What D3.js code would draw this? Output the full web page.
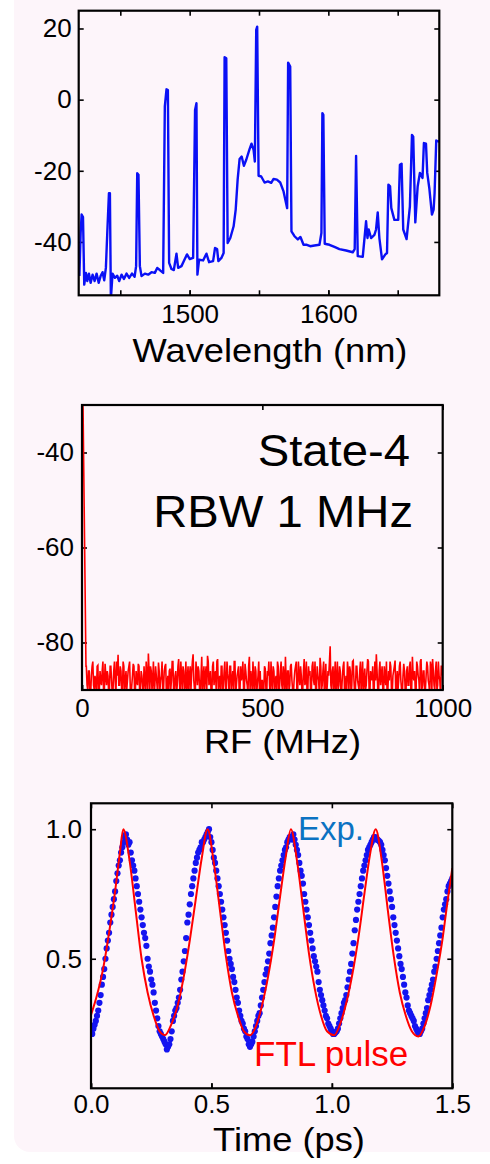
<!DOCTYPE html>
<html>
<head>
<meta charset="utf-8">
<script src="https://cdn.jsdelivr.net/npm/d3@7"></script>
<style>
  body { margin: 0; background: #ffffff; }
  svg text { font-family: "Liberation Sans", Arial, sans-serif; fill: #000; }
</style>
</head>
<body>
<svg id="canvas"></svg>
<script>
var width = 490;
var height = 1164;

// optical spectrum: wavelength (nm) / power (dB)
let specWl = [1420.5,1421.4,1422.1,1423.1,1424.0,1425.2,1426.2,1427.4,1428.6,1430.0,1431.5,1432.9,1434.4,1435.8,1437.2,1438.4,1439.6,1440.6,1441.8,1442.5,1443.2,1444.4,1446.1,1447.8,1449.2,1450.9,1452.6,1454.5,1456.4,1458.4,1460.3,1461.4,1462.2,1463.1,1464.1,1465.3,1467.7,1470.1,1472.5,1474.9,1476.6,1478.5,1480.9,1482.1,1483.3,1484.3,1485.2,1486.9,1488.6,1490.5,1491.7,1494.1,1496.5,1498.1,1500.1,1502.5,1503.9,1504.9,1505.6,1506.8,1509.7,1512.1,1514.0,1516.9,1518.3,1519.8,1520.7,1522.9,1524.5,1525.2,1526.4,1527.4,1529.3,1531.7,1533.2,1534.6,1536.0,1537.5,1539.1,1540.8,1543.2,1544.6,1546.1,1547.0,1548.0,1548.7,1549.7,1551.6,1554.0,1556.4,1558.8,1560.5,1562.9,1565.3,1567.7,1569.6,1570.3,1571.0,1572.5,1573.4,1575.6,1578.0,1579.9,1582.1,1584.5,1586.9,1590.0,1593.6,1595.0,1595.7,1596.4,1597.4,1600.8,1604.4,1608.0,1612.8,1617.6,1619.0,1620.0,1621.2,1624.8,1627.2,1628.2,1629.1,1630.8,1633.2,1634.4,1635.6,1636.8,1638.7,1641.1,1642.3,1643.3,1644.5,1645.4,1647.6,1650.4,1651.6,1652.8,1654.0,1656.4,1658.8,1660.3,1661.2,1662.7,1664.4,1666.0,1667.9,1668.9,1670.4,1671.3,1672.8,1674.7,1675.9,1676.6,1677.8,1679.0,1680.0]
let specDb = [-49.6,-37.5,-32.3,-33.0,-52.0,-48.7,-51.0,-48.9,-51.5,-49.2,-51.0,-48.9,-51.5,-49.6,-48.5,-50.8,-47.3,-37.5,-26.3,-26.3,-56.0,-48.9,-50.1,-49.5,-51.0,-49.2,-50.4,-48.9,-50.1,-48.9,-49.8,-46.8,-20.7,-21.1,-46.8,-49.6,-48.9,-49.2,-48.5,-48.7,-47.3,-47.9,-48.7,-1.9,2.9,2.7,-45.9,-47.6,-47.9,-43.3,-47.3,-46.8,-44.8,-43.5,-44.8,-44.5,-2.9,-1.0,-49.2,-45.0,-45.2,-43.3,-45.7,-45.4,-41.7,-42.0,-45.4,-44.5,-43.1,11.9,11.6,-40.3,-38.9,-35.6,-30.9,-22.5,-16.7,-16.0,-18.6,-16.9,-13.9,-12.4,-14.1,-17.4,19.6,20.5,-21.4,-21.6,-23.3,-23.0,-23.4,-22.3,-22.5,-23.3,-25.8,-29.3,-30.5,10.4,9.3,-37.0,-38.4,-39.3,-38.6,-40.8,-40.8,-41.2,-41.0,-40.8,-37.5,-3.8,-4.3,-40.5,-40.8,-41.4,-42.0,-42.4,-42.9,-42.0,-15.8,-44.0,-44.2,-34.2,-38.9,-36.5,-38.9,-38.0,-36.5,-31.7,-38.9,-44.9,-43.5,-43.1,-23.9,-24.4,-30.5,-33.8,-33.8,-18.3,-18.0,-36.5,-39.2,-30.0,-9.9,-10.4,-34.5,-24.4,-20.6,-22.0,-12.2,-12.4,-20.6,-24.9,-32.3,-30.9,-26.3,-11.5,-11.7,-11.8]
let specTicks = [1500, 1600]
let specMinor = [1450, 1500, 1550, 1600, 1650]
let specYTicks = [-40, -20, 0, 20]

// RF spectrum: peak at DC, then noise floor bins
let rfStartF = [0, 3, 7, 11]
let rfStartDb = [-28, -31, -58, -85]
// bins at 12, 16, ... 1000 MHz
let rfNoiseDb = [
  -85,-90,-86,-91,-85,-89,-87,-91,-84.8,-90,-88,-86,-91,-84.5,-89,-87,-90,-85,-91,-86,
  -88,-84,-82.6,-89,-86,-91,-85,-88,-90,-86,-84,-91,-87,-85,-90,-88,-84.5,-91,-86,-89,
  -85,-90,-87,-82.3,-90,-86,-88,-91,-85,-89,-84.2,-90,-87,-91,-86,-84.5,-89,-91,-85.5,-88,
  -84,-90,-86,-89,-83.5,-91,-87,-85,-90,-84,-88,-91,-85,-86.5,-82.5,-90,-84,-89,-86,-91,
  -83,-88,-90,-85,-82.8,-89,-86,-91,-84,-87,-90,-83.5,-88,-91,-85,-89,-84,-90,-86.5,-91,
  -85,-88,-90,-84,-89,-86,-91,-85,-87,-90,-84.5,-88,-91,-83,-86,-90,-88,-85,-91,-87,
  -90,-91,-88,-90,-85.5,-91,-87,-89,-84,-90,-86,-88,-91,-85,-89,-84,-90,-87,-83,-91,
  -86,-89,-84.5,-90,-88,-85,-91,-84,-89,-87,-90,-83.5,-88,-91,-85,-86,-90,-84,-89,-91,
  -85,-88,-83.2,-90,-86,-91,-84.5,-89,-87,-80.8,-90,-85,-88,-91,-84,-89,-86,-90,-85,-91,
  -87,-84,-90,-86,-89,-83.8,-91,-85,-88,-90,-84,-87,-91,-85.5,-89,-83.5,-90,-86,-88,-91,
  -84,-82.5,-90,-86,-89,-85,-91,-87,-84,-90,-88,-85,-91,-86,-83.8,-89,-90,-85,-88,-91,
  -84.5,-90,-86,-89,-85,-91,-83,-88,-90,-84,-87,-91,-83.5,-89,-86,-90,-84,-88,-91,-85,
  -83.5,-89,-86,-90,-84,-88,-85,-87]
// bins at 14, 18, ... 998 MHz
let rfNoiseDb2 = [
  -89,-86,-91,-87,-84,-90,-88,-85,-91,-86,-89,-84,-90,-87,-86,-91,-85,-88,-90,-84,
  -91,-87,-89,-85,-90,-84,-91,-86,-88,-85,-90,-89,-84.5,-91,-86,-89,-85,-90,-87,-91,
  -88,-84,-91,-86,-85,-90,-84,-89,-87,-91,-86,-88,-84,-90,-85,-91,-87,-86,-90,-84,
  -90,-87,-91,-85,-88,-84,-90,-86,-89,-91,-85,-87,-90,-84,-88,-91,-86,-85,-90,-87,
  -91,-85,-87,-90,-84,-88,-91,-85,-89,-86,-84,-90,-87,-85,-91,-86,-90,-84,-88,-85,
  -90,-86,-84,-91,-87,-85,-90,-88,-84,-91,-86,-89,-85,-90,-88,-84,-91,-86,-89,-84,
  -86,-88,-91,-85,-90,-86,-84,-91,-88,-85,-90,-87,-84,-91,-86,-89,-85,-91,-88,-86,
  -90,-85,-88,-91,-86,-84,-90,-87,-85,-91,-86,-89,-84,-90,-87,-91,-85,-88,-84,-90,
  -87,-91,-85,-89,-84,-88,-91,-86,-84,-89,-86,-91,-84,-88,-90,-85,-91,-87,-84,-89,
  -90,-86,-85,-91,-84,-88,-90,-85,-89,-86,-91,-84,-88,-90,-86,-84,-91,-87,-85,-90,
  -88,-86,-91,-84,-87,-90,-85,-89,-91,-86,-84,-90,-87,-85,-91,-86,-88,-84,-90,-87,
  -86,-91,-85,-89,-84,-90,-87,-86,-91,-85,-88,-84,-90,-86,-91,-87,-85,-89,-84,-90,
  -86,-90,-84,-89,-87,-91,-85]
let rfXTicks = [0, 500, 1000]
let rfYTicks = [-80, -60, -40]

// autocorrelation: FTL pulse (line) and measured trace (dots)
let ftlT = [0,0.025,0.05,0.075,0.1,0.12,0.134,0.16,0.185,0.21,0.235,0.26,0.285,0.307,0.335,0.36,0.385,0.41,0.435,0.46,0.484,0.51,0.535,0.56,0.585,0.61,0.635,0.66,0.685,0.71,0.735,0.76,0.785,0.808,0.83,0.855,0.88,0.905,0.93,0.955,0.98,1.01,1.035,1.06,1.085,1.11,1.135,1.158,1.182,1.207,1.232,1.257,1.282,1.307,1.332,1.359,1.385,1.41,1.435,1.46,1.48,1.5]
let ftlV = [0.283,0.36,0.46,0.60,0.76,0.91,1.0,0.88,0.69,0.50,0.37,0.28,0.22,0.205,0.25,0.32,0.43,0.57,0.73,0.89,1.0,0.87,0.69,0.51,0.37,0.28,0.22,0.205,0.24,0.32,0.43,0.57,0.74,0.89,1.0,0.88,0.70,0.52,0.38,0.28,0.22,0.205,0.25,0.33,0.44,0.58,0.75,0.90,1.0,0.88,0.69,0.51,0.37,0.28,0.22,0.20,0.24,0.32,0.44,0.58,0.72,0.85]
// measured trace, samples at 0, 0.01, ... 1.5 ps
let expV = [0.22,0.23,0.26,0.30,0.36,0.43,0.50,0.57,0.64,0.70,0.76,0.83,0.88,0.93,0.97,0.96,0.95,0.88,0.84,0.78,
  0.72,0.66,0.60,0.55,0.47,0.42,0.37,0.30,0.24,0.21,0.19,0.17,0.16,0.19,0.26,0.30,0.33,0.38,0.45,0.53,
  0.64,0.71,0.78,0.84,0.89,0.92,0.95,0.96,0.98,1.00,0.95,0.89,0.84,0.78,0.72,0.66,0.60,0.53,0.48,0.43,
  0.38,0.33,0.28,0.25,0.22,0.19,0.16,0.18,0.22,0.26,0.29,0.35,0.41,0.46,0.52,0.59,0.66,0.74,0.81,0.86,
  0.90,0.93,0.96,0.97,0.98,0.94,0.90,0.84,0.79,0.72,0.66,0.60,0.54,0.49,0.45,0.38,0.34,0.30,0.27,0.24,
  0.22,0.21,0.22,0.25,0.29,0.33,0.36,0.42,0.48,0.56,0.65,0.72,0.78,0.84,0.88,0.92,0.94,0.96,0.97,0.96,
  0.95,0.92,0.88,0.82,0.76,0.70,0.63,0.57,0.51,0.46,0.40,0.35,0.30,0.28,0.26,0.23,0.21,0.22,0.25,0.29,
  0.34,0.38,0.42,0.47,0.53,0.59,0.66,0.71,0.76,0.79,0.81]
// measured trace, samples at 0.005, 0.015, ... 1.495 ps
let expV2 = [0.21,0.245,0.28,0.33,0.40,0.46,0.54,0.60,0.67,0.73,0.80,0.86,0.91,0.95,0.98,0.94,0.91,0.86,0.81,0.75,
  0.69,0.63,0.58,0.50,0.45,0.40,0.33,0.27,0.22,0.20,0.18,0.15,0.17,0.22,0.28,0.31,0.35,0.42,0.49,0.58,
  0.67,0.75,0.81,0.87,0.91,0.93,0.95,0.97,0.99,0.97,0.92,0.87,0.81,0.75,0.69,0.63,0.57,0.50,0.46,0.41,
  0.35,0.30,0.26,0.23,0.20,0.17,0.17,0.20,0.24,0.28,0.32,0.38,0.44,0.49,0.56,0.62,0.70,0.78,0.84,0.88,
  0.92,0.95,0.97,0.96,0.96,0.92,0.87,0.82,0.75,0.69,0.63,0.57,0.51,0.47,0.41,0.36,0.32,0.28,0.25,0.23,
  0.21,0.215,0.23,0.27,0.31,0.34,0.39,0.45,0.52,0.61,0.69,0.75,0.81,0.86,0.90,0.93,0.95,0.97,0.96,0.955,
  0.94,0.90,0.85,0.79,0.73,0.66,0.60,0.54,0.48,0.43,0.37,0.32,0.29,0.27,0.24,0.22,0.21,0.23,0.27,0.31,
  0.36,0.40,0.45,0.50,0.56,0.62,0.69,0.73,0.78,0.80]
let acXTicks = [0, 0.5, 1.0, 1.5]
let acYTicks = [0.5, 1.0]

var svg = d3.select("#canvas").attr("width", width).attr("height", height);

// pink card behind the figure
svg.append("rect")
    .attr("x", 14).attr("y", -30)
    .attr("width", 520).attr("height", 1182)
    .attr("rx", 16)
    .attr("fill", "#fdf5fa");

function stretchText(x, y, txt, size, anchor, color, sx) {
    svg.append("text")
        .attr("transform", "translate(" + x + "," + y + ") scale(" + sx + ",1)")
        .attr("text-anchor", anchor)
        .style("font-size", size + "px")
        .style("fill", color)
        .text(txt);
}

// frame with inward ticks on all four sides
function drawFrame(id, x, y, box, xt, xl, yt, fmtX, fmtY, padX, padY) {
    let g = svg.append("g");
    g.append("defs").append("clipPath").attr("id", id)
        .append("rect")
        .attr("x", box.l).attr("y", box.t)
        .attr("width", box.r - box.l).attr("height", box.b - box.t);

    let bottom = g.append("g").attr("transform", "translate(0," + box.b + ")")
        .call(d3.axisBottom(x).tickValues(xt).tickSize(-5).tickFormat(""));
    let bottomLab = g.append("g").attr("transform", "translate(0," + box.b + ")")
        .call(d3.axisBottom(x).tickValues(xl).tickSize(-5).tickPadding(padX).tickFormat(fmtX));
    let top = g.append("g").attr("transform", "translate(0," + box.t + ")")
        .call(d3.axisTop(x).tickValues(xt).tickSize(-5).tickFormat(""));
    let left = g.append("g").attr("transform", "translate(" + box.l + ",0)")
        .call(d3.axisLeft(y).tickValues(yt).tickSize(-5).tickPadding(padY).tickFormat(fmtY));
    let right = g.append("g").attr("transform", "translate(" + box.r + ",0)")
        .call(d3.axisRight(y).tickValues(yt).tickSize(-5).tickFormat(""));

    [bottom, bottomLab, top, left, right].forEach(a => {
        a.select(".domain").remove();
        a.attr("font-family", '"Liberation Sans", Arial, sans-serif');
        a.selectAll(".tick line").attr("stroke", "#000").attr("stroke-width", 1.6);
        a.selectAll(".tick text")
            .style("font-size", "26px")
            .attr("fill", "#000");
    });
    return g;
}

function frameRect(box) {
    svg.append("rect")
        .attr("x", box.l).attr("y", box.t)
        .attr("width", box.r - box.l).attr("height", box.b - box.t)
        .attr("fill", "none")
        .attr("stroke", "#000")
        .attr("stroke-width", 2.2);
}

// plain hyphen for negatives, like the original figure
let intFmt = d => String(d);
let decFmt = d => d.toFixed(1);

// ---- panel 1: optical spectrum
let box1 = { l: 78.7, t: 10.7, r: 439.3, b: 295.3 };
let x1 = d3.scaleLinear().domain([1420, 1680]).range([box1.l, box1.r]);
let y1 = d3.scaleLinear().domain([-55, 25]).range([box1.b, box1.t]);
drawFrame("clip1", x1, y1, box1, specMinor, specTicks, specYTicks, intFmt, intFmt, 9.5, 7);

let specData = specWl.map((w, i) => [w, specDb[i]]);
svg.append("path")
    .datum(specData)
    .attr("clip-path", "url(#clip1)")
    .attr("fill", "none")
    .attr("stroke", "#0a10f5")
    .attr("stroke-width", 2.4)
    .attr("stroke-linejoin", "round")
    .attr("d", d3.line().x(d => x1(d[0])).y(d => y1(d[1])));
frameRect(box1);
stretchText(270, 362, "Wavelength (nm)", 33, "middle", "#000", 1.1);

// ---- panel 2: RF spectrum
let box2 = { l: 82, t: 405, r: 442.7, b: 690 };
let x2 = d3.scaleLinear().domain([0, 1000]).range([box2.l, box2.r]);
let y2 = d3.scaleLinear().domain([-90, -30]).range([box2.b, box2.t]);
drawFrame("clip2", x2, y2, box2, rfXTicks, rfXTicks, rfYTicks, intFmt, intFmt, 9, 8);

let rfNoise = rfNoiseDb.map((v, i) => [12 + i * 4, v])
    .concat(rfNoiseDb2.map((v, i) => [14 + i * 4, v]))
    .sort((a, b) => a[0] - b[0]);
let rfData = rfStartF.map((f, i) => [f, rfStartDb[i]]).concat(rfNoise);
svg.append("path")
    .datum(rfData)
    .attr("clip-path", "url(#clip2)")
    .attr("fill", "none")
    .attr("stroke", "#ff0000")
    .attr("stroke-width", 1.6)
    .attr("d", d3.line().x(d => x2(d[0])).y(d => y2(d[1])));
frameRect(box2);
stretchText(410, 466, "State-4", 45, "end", "#000", 1.05);
stretchText(413, 527, "RBW 1 MHz", 45, "end", "#000", 1.05);
stretchText(282.5, 753, "RF (MHz)", 33, "middle", "#000", 1.1);

// ---- panel 3: autocorrelation
let box3 = { l: 91, t: 803.3, r: 452.3, b: 1088.3 };
let x3 = d3.scaleLinear().domain([0, 1.5]).range([box3.l, box3.r]);
let y3 = d3.scaleLinear().domain([0, 1.1]).range([box3.b, box3.t]);
drawFrame("clip3", x3, y3, box3, acXTicks, acXTicks, acYTicks, decFmt, decFmt, 6.5, 9);

let expData = expV.map((v, i) => [i * 0.01, v])
    .concat(expV2.map((v, i) => [0.005 + i * 0.01, v]));
svg.append("g")
    .attr("clip-path", "url(#clip3)")
    .selectAll("circle")
    .data(expData)
    .enter()
    .append("circle")
    .attr("cx", d => x3(d[0]))
    .attr("cy", d => y3(d[1]))
    .attr("r", 3.1)
    .attr("fill", "#1414f0");

let ftlData = ftlT.map((t, i) => [t, ftlV[i]]);
svg.append("path")
    .datum(ftlData)
    .attr("clip-path", "url(#clip3)")
    .attr("fill", "none")
    .attr("stroke", "#ff0000")
    .attr("stroke-width", 2)
    .attr("d", d3.line().curve(d3.curveMonotoneX).x(d => x3(d[0])).y(d => y3(d[1])));
frameRect(box3);
stretchText(298, 840, "Exp.", 33, "start", "#0b72c2", 1.0);
stretchText(254, 1066, "FTL pulse", 35, "start", "#ff0000", 1.0);
stretchText(289, 1151, "Time (ps)", 33, "middle", "#000", 1.1);
</script>
</body>
</html>
